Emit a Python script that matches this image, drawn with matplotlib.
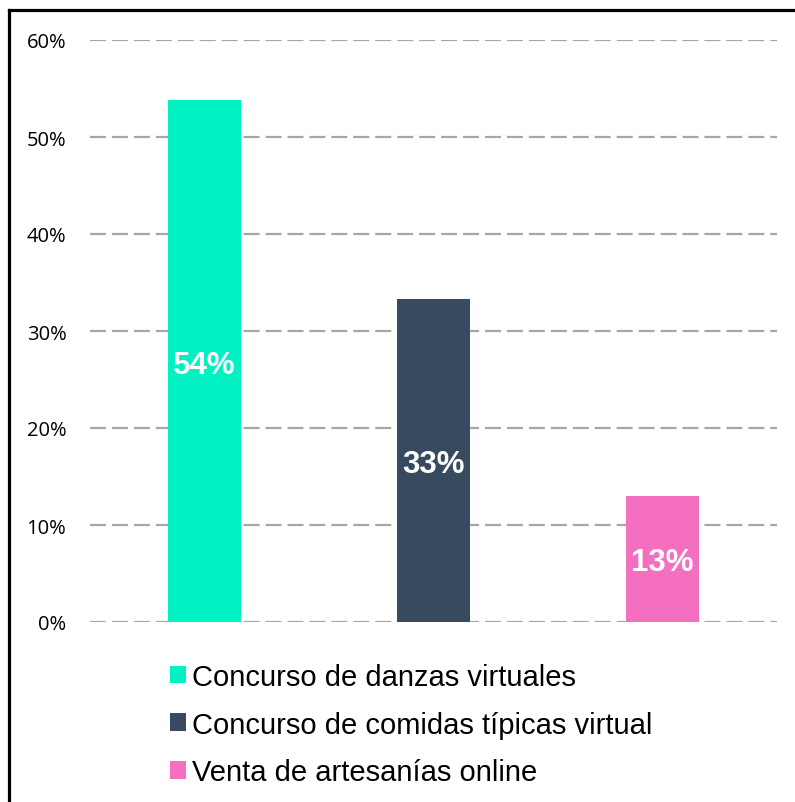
import matplotlib
matplotlib.use("Agg")
import matplotlib.pyplot as plt
from matplotlib.lines import Line2D
from matplotlib.patches import Patch

plt.rcParams['font.family'] = ['Liberation Sans', 'DejaVu Sans']
plt.rcParams['lines.scale_dashes'] = False

categories = ["Concurso de danzas virtuales",
              "Concurso de comidas típicas virtual",
              "Venta de artesanías online"]
values = [53.8, 33.3, 13.0]
labels = ["54%", "33%", "13%"]
colors = ["#00F2C3", "#374A60", "#F46FC0"]
yticks = [0, 10, 20, 30, 40, 50, 60]
ytick_labels = ["0%", "10%", "20%", "30%", "40%", "50%", "60%"]

W, H = 795, 803
fig = plt.figure(figsize=(W / 100, H / 100), dpi=100)
ax = fig.add_axes([90 / W, 180 / H, (777 - 90) / W, (762 - 180) / H])

x = list(range(len(categories)))
bars = ax.bar(x, values, width=0.32, color=colors, zorder=3)
for xi, v, lab in zip(x, values, labels):
    ax.text(xi, v / 2, lab, ha='center', va='center_baseline', color='white',
            fontsize=22.5, fontweight='bold', zorder=4)

ax.set_xlim(-0.5, len(categories) - 0.5)
ax.set_ylim(0, 60)
ax.set_yticks(yticks)
ax.set_yticklabels(ytick_labels, fontsize=14.5, family=['Open Sans', 'DejaVu Sans'])
ax.set_xticks([])
ax.tick_params(axis='y', length=0, pad=17)
ax.yaxis.grid(True, color='#A6A6A6', linewidth=1.6, linestyle=(0, (11.5, 4.3)), zorder=0)
for s in ax.spines.values():
    s.set_visible(False)

handles = [Patch(facecolor=c, edgecolor='none') for c in colors]
fig.legend(handles, categories, loc='upper left',
           bbox_to_anchor=(170 / W, (H - 664) / H), frameon=False,
           fontsize=21, handlelength=0.55, handleheight=0.55,
           handletextpad=0.2, labelspacing=0.67, borderpad=0, borderaxespad=0)

# figure border (top and left visible)
fig.add_artist(Line2D([9 / W, 1.0], [(H - 11) / H, (H - 11) / H], color='black', linewidth=2.3,
                      transform=fig.transFigure))
fig.add_artist(Line2D([9 / W, 9 / W], [0, (H - 11) / H], color='black', linewidth=2.3,
                      transform=fig.transFigure))

fig.savefig("out.png", dpi=100)
